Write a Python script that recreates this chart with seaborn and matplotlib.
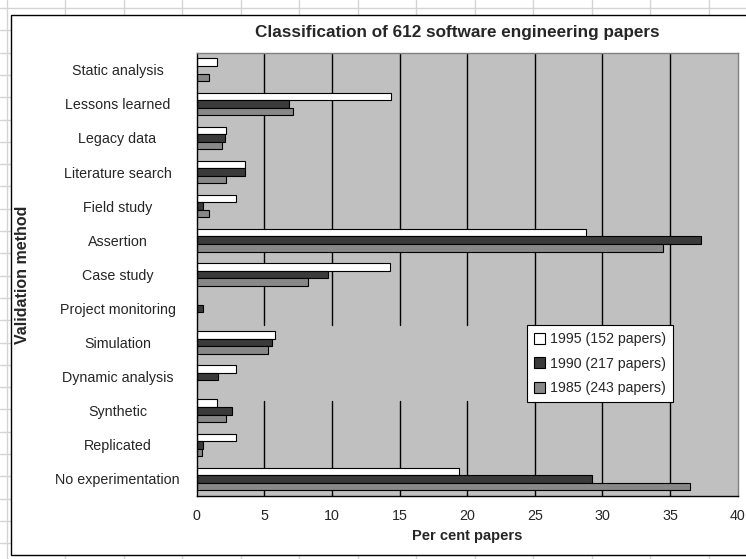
import matplotlib
matplotlib.use('Agg')
import matplotlib.pyplot as plt
import matplotlib.patches as mpatches
import matplotlib.lines as mlines
import numpy as np
import pandas as pd
import seaborn as sns

# values (per cent of papers)
methods = ['Static analysis', 'Lessons learned', 'Legacy data', 'Literature search',
           'Field study', 'Assertion', 'Case study', 'Project monitoring', 'Simulation',
           'Dynamic analysis', 'Synthetic', 'Replicated', 'No experimentation']
pct_1995 = [1.5, 14.4, 2.2, 3.6, 2.9, 28.8, 14.3, 0.0, 5.8, 2.9, 1.5, 2.9, 19.4]
pct_1990 = [0.0, 6.8, 2.1, 3.6, 0.5, 37.3, 9.7, 0.5, 5.6, 1.6, 2.6, 0.5, 29.2]
pct_1985 = [0.9, 7.1, 1.9, 2.2, 0.9, 34.5, 8.2, 0.0, 5.3, 0.0, 2.2, 0.4, 36.5]
years = ['1995', '1990', '1985']
legend_labels = ['1995 (152 papers)', '1990 (217 papers)', '1985 (243 papers)']
colors = ['#ffffff', '#3a3a3a', '#888888']

df = pd.DataFrame({
    'method': methods * 3,
    'pct': pct_1995 + pct_1990 + pct_1985,
    'year': [y for y in years for _ in methods],
})

sns.set_style('white')
plt.rcParams['font.family'] = ['Liberation Sans', 'DejaVu Sans']

W, H = 746, 559
fig = plt.figure(figsize=(W / 100, H / 100), dpi=100)

# spreadsheet cell lines behind the chart object
for x in np.arange(6.5, W, 58.5):
    fig.add_artist(mlines.Line2D([x / W, x / W], [0, 1], color='#d4d4d4', lw=1,
                                 transform=fig.transFigure, zorder=-3))
for y in np.arange(8, H, 22.3):
    fig.add_artist(mlines.Line2D([0, 1], [1 - y / H, 1 - y / H], color='#d4d4d4', lw=1,
                                 transform=fig.transFigure, zorder=-3))
# chart area with black border
fig.add_artist(mpatches.Rectangle((10.5 / W, 4 / H), 1.0, (555 - 14.5) / H,
                                  transform=fig.transFigure, facecolor='white',
                                  edgecolor='black', lw=1, zorder=-1))

ax_l, ax_r, ax_t, ax_b = 196.7, 737.7, 52.7, 496
ax = fig.add_axes([ax_l / W, 1 - ax_b / H, (ax_r - ax_l) / W, (ax_b - ax_t) / H])
ax.set_facecolor('#c0c0c0')

sns.barplot(data=df, y='method', x='pct', hue='year', hue_order=years, order=methods,
            orient='h', palette=colors, edgecolor='black', linewidth=0.8,
            width=0.66, gap=0, legend=False, ax=ax, zorder=2)

ax.set_xlim(0, 40)
ax.set_ylim(len(methods) - 0.5, -0.5)

# vertical gridlines (broken behind the legend band, as in the original)
for x in range(5, 40, 5):
    ax.axvline(x, ymin=0, ymax=0.214, color='black', lw=1, zorder=1)
    ax.axvline(x, ymin=0.386, ymax=1, color='black', lw=1, zorder=1)

ax.set_xticks(range(0, 41, 5))
ax.tick_params(axis='x', direction='inout', length=7, width=1, color='black',
               labelsize=10.3, pad=6)
ax.set_yticks(range(len(methods)))
ax.set_yticklabels(methods, ha='center')
ax.tick_params(axis='y', which='major', length=0, pad=57, labelsize=10.3)
ax.set_yticks(np.arange(-0.5, len(methods), 1), minor=True)
ax.tick_params(axis='y', which='minor', direction='inout', length=7, width=1, color='black')

for side in ['left', 'bottom']:
    ax.spines[side].set_color('black')
    ax.spines[side].set_linewidth(1)
for side in ['top', 'right']:
    ax.spines[side].set_color('#808080')
    ax.spines[side].set_linewidth(1)

ax.set_xlabel('Per cent papers', fontsize=10.5, fontweight='bold', labelpad=4)
ax.set_ylabel('Validation method', fontsize=11.5, fontweight='bold')
ax.yaxis.set_label_coords((30 - ax_l) / (ax_r - ax_l), 0.5)

fig.text(457 / W, 1 - 32 / H, 'Classification of 612 software engineering papers',
         ha='center', va='center', fontsize=12.3, fontweight='bold')

handles = [mpatches.Patch(facecolor=c, edgecolor='black', lw=0.8) for c in colors]
leg = ax.legend(handles, legend_labels, loc='upper left',
                bbox_to_anchor=((527 - ax_l) / (ax_r - ax_l), (ax_b - 325) / (ax_b - ax_t)),
                frameon=True, fancybox=False, framealpha=1, edgecolor='black',
                fontsize=10.2, handlelength=0.8, handleheight=0.8, handletextpad=0.35,
                labelspacing=0.75, borderpad=0.5, borderaxespad=0)
leg.get_frame().set_linewidth(0.8)
leg.set_zorder(5)

fig.savefig('out.png', dpi=100)
